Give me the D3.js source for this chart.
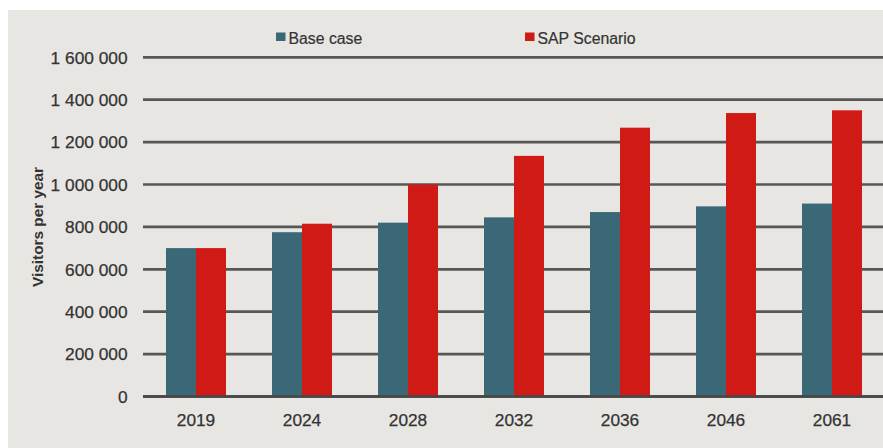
<!DOCTYPE html>
<html>
<head>
<meta charset="utf-8">
<script src="https://cdn.jsdelivr.net/npm/d3@7"></script>
<style>
  html, body { margin: 0; padding: 0; background: #ffffff; }
  svg { display: block; }
  text { font-family: "Liberation Sans", Arial, sans-serif; }
</style>
</head>
<body>
<svg id="chart" width="883" height="448"></svg>
<script>
// Visitor projections per year
const years = ["2019", "2024", "2028", "2032", "2036", "2046", "2061"];
const baseCase = [700000, 775000, 820000, 845000, 870000, 897000, 910000];
const sapScenario = [700000, 815000, 1000000, 1135000, 1268000, 1337000, 1350000];
const seriesNames = ["Base case", "SAP Scenario"];
const seriesColors = ["#3b6877", "#d01a15"];
const yTicks = [0, 200000, 400000, 600000, 800000, 1000000, 1200000, 1400000, 1600000];
const yTitle = "Visitors per year";

const W = 883, H = 448;
const svg = d3.select("#chart");

// panel background
svg.append("rect")
  .attr("x", 8).attr("y", 10)
  .attr("width", W - 8).attr("height", H - 10)
  .attr("fill", "#e8e6e3");

const x = d3.scaleBand()
  .domain(years)
  .range([143, 885])
  .paddingInner(0.434)
  .paddingOuter(0.217);

const xs = d3.scaleBand()
  .domain(seriesNames)
  .range([0, x.bandwidth()]);

const y = d3.scaleLinear()
  .domain([0, 1600000])
  .range([396.5, 57.3]);

// gridlines
svg.append("g")
  .selectAll("line")
  .data(yTicks)
  .join("line")
  .attr("x1", 143).attr("x2", W)
  .attr("y1", d => y(d)).attr("y2", d => y(d))
  .attr("stroke", d => d === 0 ? "#464646" : "#575757")
  .attr("stroke-width", 2.7);

// y tick labels
const fmt = d => d3.format(",")(d).replace(/,/g, " ");
svg.append("g")
  .selectAll("text")
  .data(yTicks)
  .join("text")
  .attr("x", 127.5)
  .attr("y", d => y(d))
  .attr("dy", "0.36em")
  .attr("text-anchor", "end")
  .attr("font-size", 17.3)
  .attr("fill", "#333")
  .attr("stroke", "#333")
  .attr("stroke-width", 0.25)
  .text(fmt);

// bars
const rows = years.map((yr, i) => ({ year: yr, values: [baseCase[i], sapScenario[i]] }));
const groups = svg.append("g")
  .selectAll("g")
  .data(rows)
  .join("g")
  .attr("transform", d => `translate(${x(d.year)},0)`);

groups.selectAll("rect")
  .data(d => d.values.map((v, k) => ({ name: seriesNames[k], v, k })))
  .join("rect")
  .attr("x", d => xs(d.name))
  .attr("width", xs.bandwidth())
  .attr("y", d => y(d.v))
  .attr("height", d => y(0) - y(d.v))
  .attr("fill", d => seriesColors[d.k]);

// redraw baseline over bars
svg.append("line")
  .attr("x1", 143).attr("x2", W)
  .attr("y1", y(0)).attr("y2", y(0))
  .attr("stroke", "#464646")
  .attr("stroke-width", 2.7);

// x labels
svg.append("g")
  .selectAll("text")
  .data(years)
  .join("text")
  .attr("x", d => x(d) + x.bandwidth() / 2)
  .attr("y", 425.7)
  .attr("text-anchor", "middle")
  .attr("font-size", 17.3)
  .attr("fill", "#333")
  .attr("stroke", "#333")
  .attr("stroke-width", 0.25)
  .text(d => d);

// y axis title
svg.append("text")
  .attr("transform", "translate(43,227) rotate(-90)")
  .attr("text-anchor", "middle")
  .attr("font-size", 14.5)
  .attr("font-weight", "bold")
  .attr("fill", "#333")
  .attr("textLength", 120)
  .attr("lengthAdjust", "spacingAndGlyphs")
  .text(yTitle);

// legend
const legendX = [276, 525];
const legend = svg.append("g")
  .selectAll("g")
  .data(seriesNames)
  .join("g")
  .attr("transform", (d, i) => `translate(${legendX[i]},0)`);
legend.append("rect")
  .attr("x", 0).attr("y", 32.5)
  .attr("width", 9.5).attr("height", 8.5)
  .attr("fill", (d, i) => seriesColors[i]);
legend.append("text")
  .attr("x", 12.5).attr("y", 44)
  .attr("font-size", 15.8)
  .attr("fill", "#333")
  .attr("stroke", "#333")
  .attr("stroke-width", 0.2)
  .text(d => d);
</script>
</body>
</html>
